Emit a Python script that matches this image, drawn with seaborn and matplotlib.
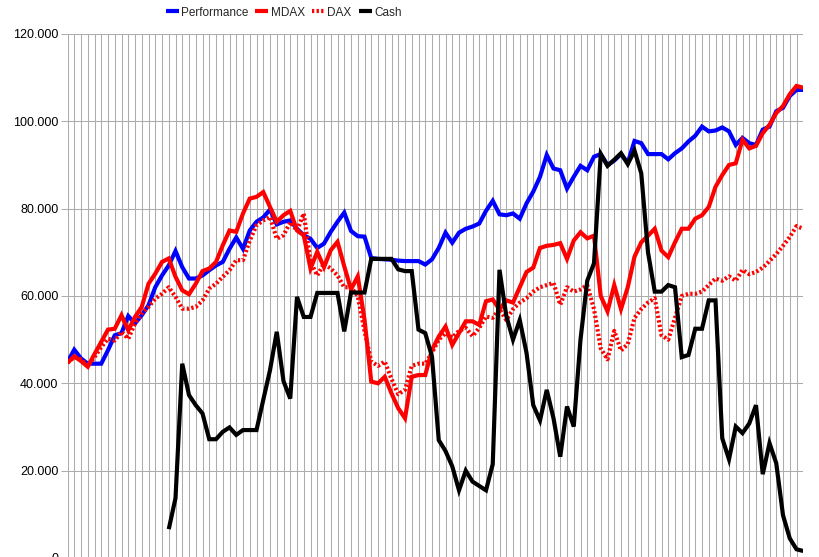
import numpy as np
import pandas as pd
import matplotlib
matplotlib.use("Agg")
import matplotlib.pyplot as plt
import seaborn as sns

# values in thousands
performance = [44.9, 47.7, 45.7, 44.5, 44.5, 44.5, 47.6, 51.0, 51.5, 55.4,
               53.7, 55.6, 57.9, 62.0, 64.7, 67.0, 70.3, 66.6, 64.0, 64.0,
               64.7, 65.9, 67.0, 67.8, 70.8, 73.4, 70.8, 75.0, 77.0, 78.0,
               79.8, 76.4, 77.0, 77.3, 75.4, 73.9, 73.1, 71.0, 72.0, 74.7,
               77.0, 79.1, 74.9, 73.7, 73.6, 68.7, 68.5, 68.4, 68.3, 68.1,
               68.0, 68.0, 68.0, 67.2, 68.4, 71.0, 74.5, 72.2, 74.5, 75.4,
               75.9, 76.6, 79.5, 81.8, 78.7, 78.5, 78.9, 77.7, 81.2, 83.9,
               87.3, 92.3, 89.2, 88.8, 84.6, 87.3, 89.8, 88.8, 91.9, 92.5,
               90.0, 91.0, 92.5, 90.5, 95.5, 95.0, 92.5, 92.5, 92.5, 91.3,
               92.7, 93.8, 95.4, 96.7, 98.8, 97.7, 97.9, 98.6, 97.7, 94.6,
               96.2, 95.0, 94.6, 98.1, 98.8, 102.3, 103.1, 105.8, 107.2, 107.2]

mdax = [44.7, 46.2, 45.1, 43.8, 46.7, 49.5, 52.3, 52.5, 55.6, 52.1,
        55.2, 57.5, 62.8, 65.1, 67.8, 68.6, 64.4, 61.3, 60.4, 62.8,
        65.7, 66.3, 67.8, 71.6, 75.0, 74.7, 78.9, 82.3, 82.7, 83.8,
        80.4, 77.0, 78.5, 79.5, 75.0, 73.9, 66.3, 70.1, 66.6, 70.5,
        72.4, 66.8, 61.5, 64.5, 54.6, 40.4, 40.0, 41.5, 37.7, 34.3,
        32.0, 41.5, 41.9, 41.9, 47.7, 50.7, 53.0, 48.8, 51.5, 54.2,
        54.2, 53.4, 58.8, 59.2, 56.9, 59.0, 58.5, 62.0, 65.5, 66.5,
        71.0, 71.5, 71.7, 72.1, 68.5, 72.7, 74.6, 73.2, 73.8, 60.0,
        56.5, 62.5, 57.0, 62.0, 69.0, 72.3, 73.8, 75.4, 70.4, 68.9,
        72.3, 75.4, 75.4, 77.7, 78.5, 80.4, 85.0, 87.7, 90.0, 90.4,
        95.8, 93.8, 94.4, 97.3, 99.2, 101.9, 103.5, 106.2, 108.1, 107.7]

dax = [44.7, 46.0, 45.5, 44.0, 46.0, 48.3, 50.2, 49.8, 51.8, 50.2,
       53.7, 56.0, 57.5, 59.4, 60.5, 62.0, 59.8, 57.1, 57.1, 57.5,
       59.0, 61.7, 62.8, 64.4, 65.9, 68.2, 68.2, 72.7, 76.2, 77.3,
       78.1, 73.1, 73.9, 76.9, 75.0, 78.9, 67.8, 64.7, 67.4, 66.3,
       64.7, 62.0, 62.0, 60.0, 52.0, 45.0, 44.0, 45.0, 41.0, 37.5,
       38.5, 44.0, 44.5, 44.5, 47.0, 50.0, 51.5, 50.5, 52.0, 52.7,
       50.8, 52.7, 55.3, 55.0, 57.0, 54.5, 57.0, 58.5, 59.5, 61.0,
       62.0, 62.5, 63.0, 58.0, 62.0, 61.0, 61.5, 62.5, 57.0, 48.0,
       45.5, 52.0, 47.5, 49.0, 55.0, 57.0, 58.5, 59.5, 51.0, 50.0,
       55.0, 60.0, 60.5, 60.5, 61.0, 62.5, 64.0, 63.5, 64.5, 63.5,
       66.0, 65.0, 65.5, 66.5, 68.0, 69.6, 71.5, 73.5, 76.0, 75.4]

nan = float("nan")
cash = [nan] * 15 + [
    6.6, 13.7, 44.5, 37.3, 35.0,
    33.1, 27.2, 27.2, 28.9, 29.9, 28.2, 29.3, 29.3, 29.3, 36.2,
    43.0, 51.8, 40.5, 36.5, 59.8, 55.2, 55.2, 60.7, 60.7, 60.7,
    60.7, 51.9, 60.8, 60.8, 60.8, 68.5, 68.5, 68.5, 68.5, 66.1,
    65.7, 65.7, 52.3, 51.5, 46.1, 27.0, 24.5, 21.0, 15.5, 20.0,
    17.5, 16.5, 15.5, 21.5, 66.0, 55.5, 50.0, 54.5, 47.0, 35.0,
    31.5, 38.5, 32.0, 23.2, 34.7, 30.1, 50.0, 63.5, 67.5, 92.5,
    89.8, 91.2, 92.7, 90.2, 93.3, 88.1, 70.0, 61.0, 61.0, 62.5,
    62.0, 46.0, 46.5, 52.5, 52.5, 59.0, 59.0, 27.4, 22.6, 30.1,
    28.6, 30.8, 35.0, 19.2, 26.3, 21.7, 9.8, 4.5, 2.0, 1.6]

series_names = ["Performance", "MDAX", "DAX", "Cash"]
y_ticks = [0, 20000, 40000, 60000, 80000, 100000, 120000]
y_tick_labels = ["0", "20.000", "40.000", "60.000", "80.000", "100.000", "120.000"]

n = len(performance)
df = pd.DataFrame({
    "t": np.arange(n),
    "Performance": np.array(performance) * 1000,
    "MDAX": np.array(mdax) * 1000,
    "DAX": np.array(dax) * 1000,
    "Cash": np.array(cash) * 1000,
})

sns.set_theme(style="white")
plt.rcParams["font.family"] = ["Liberation Sans", "DejaVu Sans"]

fig = plt.figure(figsize=(8.19, 5.57), dpi=100)
W, H = 819, 557
x0, x1 = 67.5, 803.25
y_top, y_bot = 34.0, 558.0
ax = fig.add_axes([x0 / W, 1 - y_bot / H, (x1 - x0) / W, (y_bot - y_top) / H])

colors = {"Performance": "#0000ff", "MDAX": "#ff0000", "DAX": "#ff0000", "Cash": "#000000"}
for name in series_names:
    sub = df[["t", name]].dropna()
    sns.lineplot(data=sub, x="t", y=name, ax=ax, color=colors[name],
                 linewidth=3.0, label=name, sort=False,
                 solid_joinstyle="miter", solid_capstyle="butt")
    if name == "DAX":
        ln = ax.lines[-1]
        ln.set_linestyle((0, (0.55, 0.55)))
        ln.set_dash_capstyle("butt")

ax.set_xlim(0, n - 1)
ax.set_ylim(0, 120000)
ax.set_xticks(np.arange(n))
ax.set_yticks(y_ticks)
ax.set_yticklabels(y_tick_labels)
ax.set_xlabel("")
ax.set_ylabel("")
ax.grid(True, color="#adadad", linewidth=0.75)
ax.set_axisbelow(True)
for s in ax.spines.values():
    s.set_visible(False)
ax.tick_params(axis="x", length=0, labelbottom=False)
ax.tick_params(axis="y", length=5, width=0.75, color="#adadad", direction="out",
               labelsize=9, labelcolor="#000000", pad=1.5, left=True)

handles, labels = ax.get_legend_handles_labels()
ax.get_legend().remove()
fig.legend(handles, labels, loc="upper left", bbox_to_anchor=(162 / W, 1.0 - 3 / H),
           ncol=4, frameon=False, fontsize=8.5, handlelength=1.1,
           handletextpad=0.2, columnspacing=0.6, borderaxespad=0.0, borderpad=0.3)

fig.savefig("out.png", dpi=100)
